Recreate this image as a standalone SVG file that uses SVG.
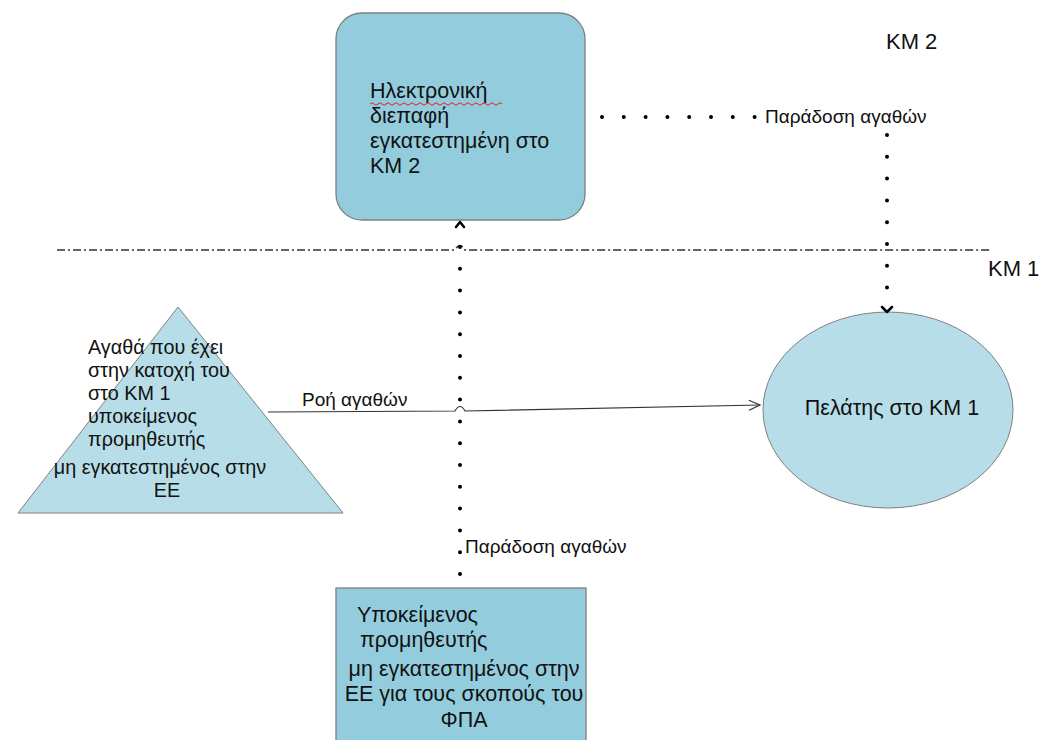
<svg xmlns="http://www.w3.org/2000/svg" width="1043" height="740" viewBox="0 0 1043 740">
<style>
text{font-family:"Liberation Sans","Open Sans",sans-serif;fill:#111}
.t17{font-size:21.5px}
.tri{font-size:19.8px}
.t14{font-size:19px}
.km{font-size:22px}
.box{fill:#93CDDD;stroke:#7f7f7f;stroke-width:1.3}
.light{fill:#B7DEE8;stroke:#7f7f7f;stroke-width:1}
.dots{fill:none;stroke:#000;stroke-width:4;stroke-linecap:round;stroke-dasharray:0 21.8}
.chev{fill:none;stroke:#000;stroke-width:2.5;stroke-linecap:round;stroke-linejoin:round}
</style>
<defs>
<marker id="arr" markerWidth="14" markerHeight="12" refX="12" refY="6" orient="auto" markerUnits="userSpaceOnUse">
<path d="M1,1 L12,6 L1,11" fill="none" stroke="#333" stroke-width="1.2"/>
</marker>
</defs>
<rect width="1043" height="740" fill="#fff"/>

<g id="border-line">
<path d="M57,250 H455 q5,-9 10,0 H990" fill="none" stroke="#333" stroke-width="1.6" stroke-dasharray="8 3 2 3"/>
<text class="km" x="988" y="276">KM 1</text>
</g>

<g id="km2-label">
<text class="km" x="886" y="49">KM 2</text>
</g>

<g id="interface">
<rect class="box" x="336" y="13" width="249" height="207" rx="26"/>
<text class="t17" x="370" y="98">Ηλεκτρονική</text>
<path d="M370,104 q2,-2.5 4,0 t4,0 t4,0 t4,0 t4,0 t4,0 t4,0 t4,0 t4,0 t4,0 t4,0 t4,0 t4,0 t4,0 t4,0 t4,0 t4,0 t4,0 t4,0 t4,0 t4,0 t4,0 t4,0 t4,0 t4,0 t4,0 t4,0 t4,0 t4,0 t4,0 t4,0 t4,0 t4,0" fill="none" stroke="#e02020" stroke-width="1"/>
<text class="t17" x="370" y="123">διεπαφή</text>
<text class="t17" x="370" y="148">εγκατεστημένη στο</text>
<text class="t17" x="370" y="173">KM 2</text>
</g>

<g id="goods">
<polygon class="light" points="178,307 343,513 18,513"/>
<text class="tri" x="88" y="354">Αγαθά που έχει</text>
<text class="tri" x="88" y="377">στην κατοχή του</text>
<text class="tri" x="88" y="400">στο KM 1</text>
<text class="tri" x="88" y="423">υποκείμενος</text>
<text class="tri" x="88" y="446">προμηθευτής</text>
<text class="tri" x="160" y="474" text-anchor="middle">μη εγκατεστημένος στην</text>
<text class="tri" x="167" y="497" text-anchor="middle">ΕΕ</text>
</g>

<g id="customer">
<ellipse class="light" cx="888" cy="410" rx="125" ry="98" stroke="#333"/>
<text class="t17" x="892" y="415" text-anchor="middle">Πελάτης στο KM 1</text>
</g>

<g id="supplier">
<rect class="box" x="336" y="588" width="250" height="160"/>
<text class="t17" x="357" y="622">Υποκείμενος</text>
<text class="t17" x="360" y="647">προμηθευτής</text>
<text class="t17" x="464" y="676" text-anchor="middle">μη εγκατεστημένος στην</text>
<text class="t17" x="464" y="701" text-anchor="middle">ΕΕ για τους σκοπούς του</text>
<text class="t17" x="464" y="727" text-anchor="middle">ΦΠΑ</text>
</g>

<g id="connectors">
<path d="M268,412 L455,411 q5,-9 10,0 L760,405" fill="none" stroke="#333" stroke-width="1.2" marker-end="url(#arr)"/>
<text class="t14" x="302" y="406">Ροή αγαθών</text>

<path class="dots" d="M602,117 H758"/>
<text class="t14" x="765" y="123">Παράδοση αγαθών</text>
<path class="dots" d="M887,135 V303"/>
<path class="chev" d="M882,307 L887,312 L892,307"/>

<path class="dots" d="M460,574 V238"/>
<path class="chev" d="M456,227 L460,222 L464,227"/>
<text class="t14" x="465" y="553">Παράδοση αγαθών</text>
</g>
</svg>
